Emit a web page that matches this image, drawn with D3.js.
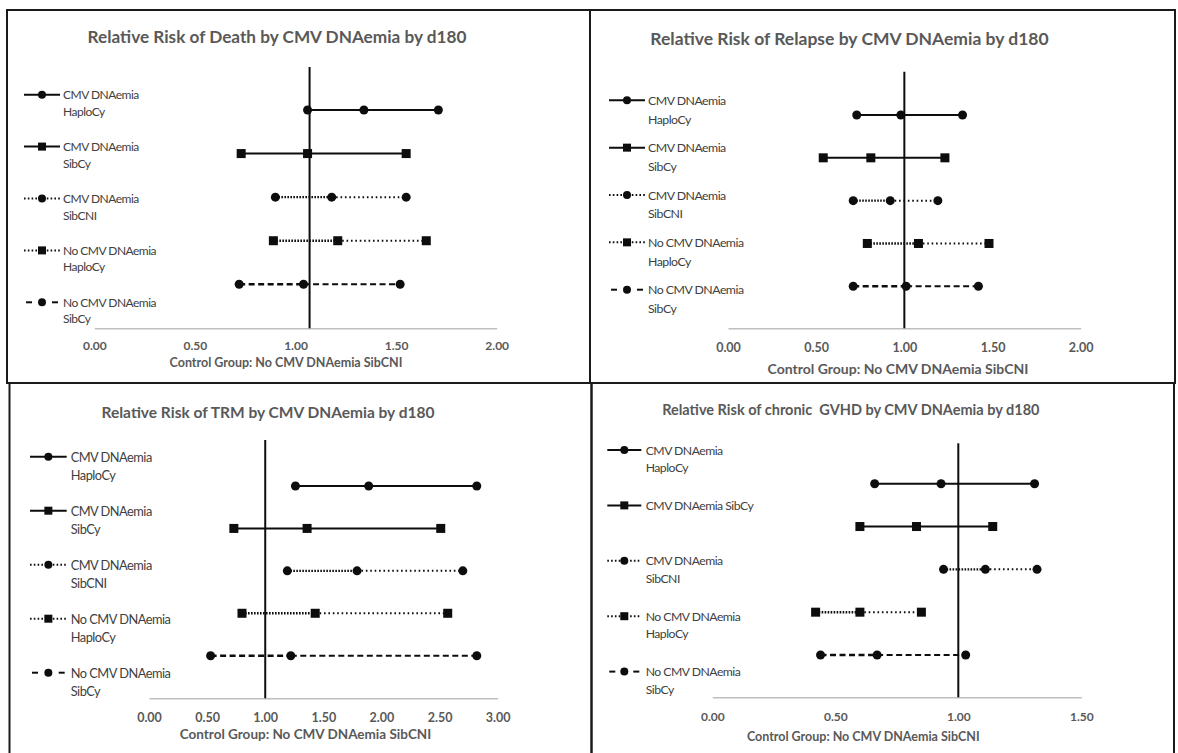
<!DOCTYPE html>
<html>
<head>
<meta charset="utf-8">
<script src="https://cdn.jsdelivr.net/npm/d3@7"></script>
<style>
  html, body { margin: 0; padding: 0; background: #fff; }
  svg { display: block; }
  text { font-family: Lato, "Open Sans", "Liberation Sans", sans-serif; fill: #595959; }
</style>
</head>
<body>
<svg id="chart" width="1178" height="753"></svg>
<script>
// Groups compared against the control group (No CMV DNAemia SibCNI)
const groupLabels = [
  ["CMV DNAemia", "HaploCy"],
  ["CMV DNAemia", "SibCy"],
  ["CMV DNAemia", "SibCNI"],
  ["No CMV DNAemia", "HaploCy"],
  ["No CMV DNAemia", "SibCy"]
];
const gvhdGroupLabels = [
  ["CMV DNAemia", "HaploCy"],
  ["CMV DNAemia SibCy"],
  ["CMV DNAemia", "SibCNI"],
  ["No CMV DNAemia", "HaploCy"],
  ["No CMV DNAemia", "SibCy"]
];

// Relative risk: lower bound, estimate, upper bound per group
const deathLow  = [1.06, 0.73, 0.90, 0.89, 0.72];
const deathEst  = [1.34, 1.06, 1.18, 1.21, 1.04];
const deathHigh = [1.71, 1.55, 1.55, 1.65, 1.52];

const relapseLow  = [0.73, 0.54, 0.71, 0.79, 0.71];
const relapseEst  = [0.98, 0.81, 0.92, 1.08, 1.01];
const relapseHigh = [1.33, 1.23, 1.19, 1.48, 1.42];

const trmLow  = [1.26, 0.73, 1.19, 0.80, 0.53];
const trmEst  = [1.89, 1.36, 1.79, 1.43, 1.22];
const trmHigh = [2.82, 2.51, 2.70, 2.57, 2.82];

const gvhdLow  = [0.66, 0.60, 0.94, 0.42, 0.44];
const gvhdEst  = [0.93, 0.83, 1.11, 0.60, 0.67];
const gvhdHigh = [1.31, 1.14, 1.32, 0.85, 1.03];

// Axis ticks and reference lines
const ticksTo2   = [0, 0.5, 1, 1.5, 2];
const ticksTo3   = [0, 0.5, 1, 1.5, 2, 2.5, 3];
const ticksTo1_5 = [0, 0.5, 1, 1.5];
const referenceValues = [1.07, 1.0, 1.0, 1.0];

const titles = [
  "Relative Risk of Death by CMV DNAemia by d180",
  "Relative Risk of Relapse by CMV DNAemia by d180",
  "Relative Risk of TRM by CMV DNAemia by d180",
  "Relative Risk of chronic  GVHD by CMV DNAemia by d180"
];
const axisTitle = "Control Group: No CMV DNAemia SibCNI";

// Series styling: line pattern and marker shape
const seriesStyle = [
  { dash: null, marker: "circle" },
  { dash: null, marker: "square" },
  { dash: "dot", marker: "circle" },
  { dash: "dot", marker: "square" },
  { dash: "dash", marker: "circle" }
];

// Panel geometry
const panels = [
  { low: deathLow, est: deathEst, high: deathHigh, ticks: ticksTo2, labels: groupLabels,
    frame: [7, 10, 590, 383], x0: 94.3, x1: 496.7, axisY: 328.3, rowTop: 110, rowBottom: 284.3,
    refTop: 67, tickY: 345.7, tickSize: 12, axisTitleX: 286, axisTitleY: 362.7, axisTitleSize: 12.5,
    titleX: 277, titleY: 36.7, titleSize: 17.2,
    legLine: [24, 60], legText: 63, legTop: 94.7, legStep: 51.9, legLH: 16.5, legSize: 12, legSp: -0.5 },
  { low: relapseLow, est: relapseEst, high: relapseHigh, ticks: ticksTo2, labels: groupLabels,
    frame: [590, 10, 1175, 383], x0: 728, x1: 1080.7, axisY: 328.3, rowTop: 115, rowBottom: 286.3,
    refTop: 71.7, tickY: 348, tickSize: 12.5, axisTitleX: 898, axisTitleY: 368, axisTitleSize: 14,
    titleX: 849.5, titleY: 38.3, titleSize: 17.5,
    legLine: [609, 645], legText: 648, legTop: 100.3, legStep: 47.35, legLH: 18.7, legSize: 12.3, legSp: -0.5 },
  { low: trmLow, est: trmEst, high: trmHigh, ticks: ticksTo3, labels: groupLabels,
    frame: [9.5, 383, 591.5, 760], x0: 149, x1: 497.7, axisY: 698.3, rowTop: 486, rowBottom: 655.7,
    refTop: 440, tickY: 717.7, tickSize: 12.5, axisTitleX: 305.5, axisTitleY: 734.3, axisTitleSize: 13.5,
    titleX: 268, titleY: 411.7, titleSize: 15.5,
    legLine: [30, 66.7], legText: 70.7, legTop: 456.7, legStep: 54, legLH: 18.5, legSize: 12.8, legSp: -0.5 },
  { low: gvhdLow, est: gvhdEst, high: gvhdHigh, ticks: ticksTo1_5, labels: gvhdGroupLabels,
    frame: [591.5, 383, 1174, 760], x0: 712.3, x1: 1081.3, axisY: 697.3, rowTop: 483.7, rowBottom: 655,
    refTop: 443.3, tickY: 716.7, tickSize: 12, axisTitleX: 863.3, axisTitleY: 736, axisTitleSize: 12.5,
    titleX: 850.8, titleY: 409.3, titleSize: 14.5,
    legLine: [607.3, 641.3], legText: 645.7, legTop: 450, legStep: 55.4, legLH: 17.7, legSize: 12.2, legSp: -0.5 }
];

const svg = d3.select("#chart");
const ink = "#0d0d0d";
const fmt = d3.format(".2f");

function dashFor(kind, part) {
  if (kind === "dot") return part === 0 ? "1.6,1.4" : "1.6,2.8";
  if (kind === "dash") return "6,3.5";
  return null;
}

function drawMarker(g, shape, cx, cy, size) {
  if (shape === "circle") {
    g.append("circle").attr("cx", cx).attr("cy", cy).attr("r", size / 2).attr("fill", ink);
  } else {
    g.append("rect").attr("x", cx - size / 2).attr("y", cy - size / 2)
      .attr("width", size).attr("height", size).attr("fill", ink);
  }
}

panels.forEach((p, pi) => {
  const g = svg.append("g");

  // frame
  const [fx0, fy0, fx1, fy1] = p.frame;
  g.append("rect").attr("x", fx0).attr("y", fy0).attr("width", fx1 - fx0).attr("height", fy1 - fy0)
    .attr("fill", "none").attr("stroke", "#1a1a1a").attr("stroke-width", 2);

  const xMax = p.ticks[p.ticks.length - 1];
  const x = d3.scaleLinear().domain([0, xMax]).range([p.x0, p.x1]);
  const y = d3.scaleLinear().domain([0, p.low.length - 1]).range([p.rowTop, p.rowBottom]);

  // title
  g.append("text").attr("x", p.titleX).attr("y", p.titleY).attr("text-anchor", "middle")
    .attr("dominant-baseline", "central").style("font-size", p.titleSize + "px")
    .style("font-weight", 700).style("fill", "#595959").style("white-space", "pre")
    .text(titles[pi]);

  // x axis
  const axis = d3.axisBottom(x).tickValues(p.ticks).tickFormat(fmt).tickSize(0).tickPadding(0);
  const ax = g.append("g").attr("transform", `translate(0,${p.axisY})`).call(axis);
  ax.select(".domain").attr("stroke", "#bfbfbf").attr("stroke-width", 1.5);
  ax.selectAll(".tick text").attr("y", p.tickY - p.axisY).attr("dy", "0.35em")
    .style("font-size", p.tickSize + "px").style("font-family", "Lato, sans-serif")
    .style("fill", "#595959").style("font-weight", 700);

  // axis title
  g.append("text").attr("x", p.axisTitleX).attr("y", p.axisTitleY).attr("text-anchor", "middle")
    .attr("dominant-baseline", "central").style("font-size", p.axisTitleSize + "px")
    .style("font-weight", 700).text(axisTitle);

  // reference line
  g.append("line").attr("x1", x(referenceValues[pi])).attr("x2", x(referenceValues[pi]))
    .attr("y1", p.refTop).attr("y2", p.axisY).attr("stroke", ink).attr("stroke-width", 2);

  // interval lines and markers
  p.low.forEach((lo, i) => {
    const st = seriesStyle[i];
    const cy = y(i);
    const segs = [[lo, p.est[i]], [p.est[i], p.high[i]]];
    segs.forEach((s, k) => {
      g.append("line").attr("x1", x(s[0])).attr("x2", x(s[1])).attr("y1", cy).attr("y2", cy)
        .attr("stroke", ink).attr("stroke-width", k === 0 && st.dash ? 2.4 : 2)
        .attr("stroke-dasharray", dashFor(st.dash, k));
    });
    [lo, p.est[i], p.high[i]].forEach(v => drawMarker(g, st.marker, x(v), cy, 9));
  });

  // legend
  p.labels.forEach((lines, i) => {
    const st = seriesStyle[i];
    const ly = p.legTop + i * p.legStep;
    const [lx0, lx1] = p.legLine;
    const mid = (lx0 + lx1) / 2;
    if (st.dash === "dash") {
      g.append("line").attr("x1", lx0 + 2).attr("x2", lx0 + 8).attr("y1", ly).attr("y2", ly)
        .attr("stroke", ink).attr("stroke-width", 2);
      g.append("line").attr("x1", lx1 - 8).attr("x2", lx1 - 2).attr("y1", ly).attr("y2", ly)
        .attr("stroke", ink).attr("stroke-width", 2);
    } else {
      g.append("line").attr("x1", lx0).attr("x2", lx1).attr("y1", ly).attr("y2", ly)
        .attr("stroke", ink).attr("stroke-width", 2)
        .attr("stroke-dasharray", st.dash === "dot" ? "1.6,2.2" : null);
    }
    drawMarker(g, st.marker, mid, ly, 8);
    const t = g.append("text").attr("x", p.legText).attr("y", ly)
      .style("font-size", p.legSize + "px").style("font-weight", 400)
      .style("letter-spacing", p.legSp + "px").style("fill", "#404040");
    lines.forEach((ln, j) => {
      t.append("tspan").attr("x", p.legText).attr("y", ly + j * p.legLH)
        .attr("dominant-baseline", "central").text(ln);
    });
  });
});
</script>
</body>
</html>
